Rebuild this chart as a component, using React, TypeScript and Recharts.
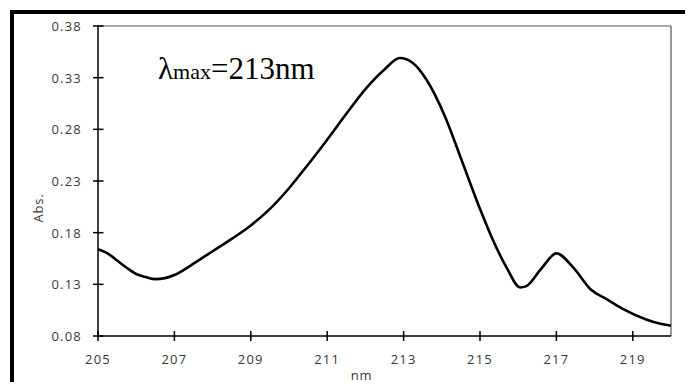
import { Label, Line, LineChart, ReferenceLine, XAxis, YAxis } from 'recharts';

const wavelengths = [
  205.0, 205.25, 205.5, 205.75, 206.0, 206.25, 206.5, 206.75, 207.0, 207.5, 208.0, 208.5,
  209.0, 209.5, 210.0, 210.5, 211.0, 211.5, 212.0, 212.5, 212.9, 213.25, 213.6, 214.1,
  214.5, 215.0, 215.3, 215.7, 216.05, 216.2, 216.6, 217.0, 217.45, 217.9, 218.3, 218.75,
  219.35, 219.7, 220.0,
];
const absorbance = [
  0.164, 0.16, 0.153, 0.146, 0.14, 0.137, 0.135, 0.136, 0.139, 0.15, 0.162, 0.174,
  0.187, 0.203, 0.223, 0.246, 0.27, 0.295, 0.319, 0.338, 0.349, 0.344, 0.328, 0.291,
  0.252, 0.203, 0.176, 0.146, 0.127, 0.128, 0.145, 0.16, 0.146, 0.125, 0.116, 0.106,
  0.096, 0.092, 0.09,
];
const xTicks = [205, 207, 209, 211, 213, 215, 217, 219];
const yTicks = [0.08, 0.13, 0.18, 0.23, 0.28, 0.33, 0.38];

const data = wavelengths.map((nm, i) => ({ nm, abs: absorbance[i] }));

const tickFont = {
  fontFamily: 'Open Sans',
  fontSize: 13,
  letterSpacing: 1.2,
  fill: '#383838',
};

// outward half of each tick comes from tickLine, inward half is drawn here
const XTick = ({ x, y, payload }: any) => (
  <g>
    <path d={`M${x},${y - 10}V${y - 4}`} stroke="#000" strokeWidth={1.5} fill="none" />
    <text x={x} y={y + 18} textAnchor="middle" dominantBaseline="central" {...tickFont}>
      {payload.value}
    </text>
  </g>
);

const YTick = ({ x, y, payload }: any) => (
  <g>
    <path d={`M${x + 4},${y}H${x + 10.5}`} stroke="#000" strokeWidth={1.5} fill="none" />
    <text x={x - 11} y={y} textAnchor="end" dominantBaseline="central" {...tickFont}>
      {Number(payload.value).toFixed(2)}
    </text>
  </g>
);

export default function App() {
  return (
    <div style={{ position: 'relative', margin: -8, width: 693, height: 390, overflow: 'hidden', background: '#fff' }}>
      <div
        style={{
          position: 'absolute',
          left: 10,
          top: 10,
          width: 800,
          height: 500,
          borderLeft: '4px solid #000',
          borderTop: '4px solid #000',
        }}
      />
      <LineChart
        width={693}
        height={390}
        data={data}
        margin={{ top: 26, right: 22, left: 48, bottom: 24 }}
        style={{ position: 'absolute', left: 0, top: 0 }}
      >
        <ReferenceLine y={0.38} stroke="#555" strokeWidth={1.2} />
        <ReferenceLine x={220} stroke="#555" strokeWidth={1.2} />
        <XAxis
          dataKey="nm"
          type="number"
          domain={[205, 220]}
          ticks={xTicks}
          height={30}
          tickSize={5}
          tickMargin={0}
          tickLine={{ stroke: '#000', strokeWidth: 1.5 }}
          tick={<XTick />}
          axisLine={{ stroke: '#000', strokeWidth: 1.5 }}
          interval={0}
        >
          <Label
            value="nm"
            position="bottom"
            dx={-23}
            dy={0}
            style={{ ...tickFont, letterSpacing: 0.8 }}
          />
        </XAxis>
        <YAxis
          type="number"
          domain={[0.08, 0.38]}
          ticks={yTicks}
          width={50}
          tickSize={5}
          tickMargin={0}
          tickLine={{ stroke: '#000', strokeWidth: 1.5 }}
          tick={<YTick />}
          axisLine={{ stroke: '#000', strokeWidth: 1.5 }}
          interval={0}
          label={() => (
            <text
              x={37.5}
              y={208}
              transform="rotate(-90 37.5 208)"
              textAnchor="middle"
              dominantBaseline="central"
              {...tickFont}
              letterSpacing={0.8}
            >
              Abs.
            </text>
          )}
        />
        <Line
          type="monotone"
          dataKey="abs"
          stroke="#000"
          strokeWidth={2.6}
          dot={false}
          isAnimationActive={false}
        />
      </LineChart>
      <svg width={693} height={390} style={{ position: 'absolute', left: 0, top: 0, pointerEvents: 'none' }}>
        <text x={158} y={79} fontFamily="Liberation Serif" fontSize={31} fill="#000">
          <tspan>λ</tspan>
          <tspan fontSize={22}>max</tspan>
          <tspan>=213nm</tspan>
        </text>
      </svg>
    </div>
  );
}
